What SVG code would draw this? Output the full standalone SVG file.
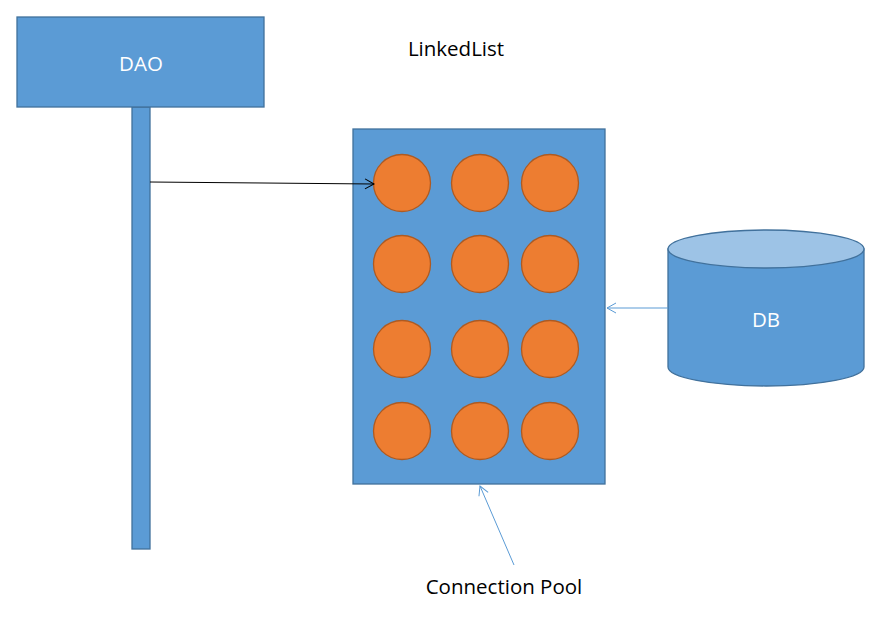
<svg xmlns="http://www.w3.org/2000/svg" width="875" height="627" viewBox="0 0 875 627">
<style>
.box{fill:#5b9bd5;stroke:#41719c;stroke-width:1.3}
.c{fill:#ed7d31;stroke:#ae5a21;stroke-width:1.3}
.w{fill:#fff;font-family:"Open Sans","Liberation Sans",sans-serif;font-size:20.5px;text-anchor:middle}
.k{fill:#000;font-family:"Open Sans","Liberation Sans",sans-serif;font-size:20.5px;text-anchor:middle}
</style>
<defs>
<marker id="ab" markerWidth="12" markerHeight="12" refX="10" refY="6" orient="auto" markerUnits="userSpaceOnUse"><path d="M1,1 L10,6 L1,11" fill="none" stroke="#000" stroke-width="1"/></marker>
<marker id="al" markerWidth="12" markerHeight="12" refX="10" refY="6" orient="auto" markerUnits="userSpaceOnUse"><path d="M1,1 L10,6 L1,11" fill="none" stroke="#5b9bd5" stroke-width="1"/></marker>
</defs>
<g id="dao">
<rect class="box" x="132" y="107" width="18" height="442"/>
<rect class="box" x="17" y="17" width="247" height="90"/>
<text class="w" x="141" y="71">DAO</text>
</g>
<g id="linkedlist-label"><text class="k" x="456" y="56">LinkedList</text></g>
<g id="pool">
<rect class="box" x="353" y="129" width="252" height="355"/>
<circle class="c" cx="402" cy="183" r="28.5"/><circle class="c" cx="480" cy="183" r="28.5"/><circle class="c" cx="550" cy="183" r="28.5"/>
<circle class="c" cx="402" cy="264" r="28.5"/><circle class="c" cx="480" cy="264" r="28.5"/><circle class="c" cx="550" cy="264" r="28.5"/>
<circle class="c" cx="402" cy="349" r="28.5"/><circle class="c" cx="480" cy="349" r="28.5"/><circle class="c" cx="550" cy="349" r="28.5"/>
<circle class="c" cx="402" cy="431" r="28.5"/><circle class="c" cx="480" cy="431" r="28.5"/><circle class="c" cx="550" cy="431" r="28.5"/>
</g>
<g id="db">
<path class="box" d="M668,249 L668,367 A98,19 0 0 0 864,367 L864,249 Z"/>
<ellipse cx="766" cy="249" rx="98" ry="19" fill="#9dc3e6" stroke="#41719c" stroke-width="1.3"/>
<text class="w" x="766" y="327">DB</text>
</g>
<g id="pool-label"><text class="k" x="504" y="594">Connection Pool</text></g>
<g id="connectors">
<line x1="150" y1="182" x2="374" y2="184" stroke="#000" stroke-width="1" marker-end="url(#ab)"/>
<line x1="668" y1="308" x2="607" y2="308" stroke="#5b9bd5" stroke-width="1" marker-end="url(#al)"/>
<line x1="514" y1="565" x2="480" y2="486" stroke="#5b9bd5" stroke-width="1" marker-end="url(#al)"/>
</g>
</svg>
